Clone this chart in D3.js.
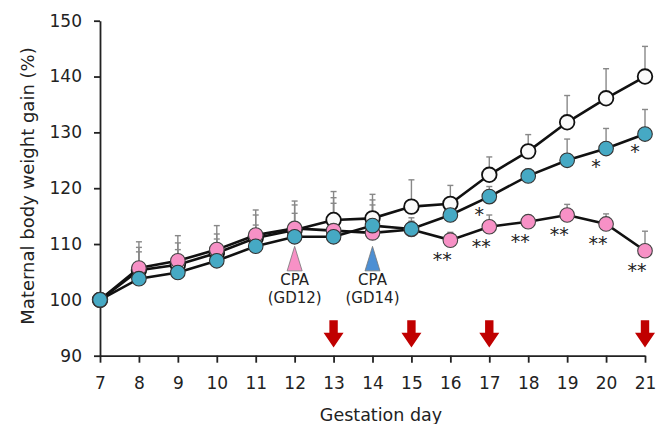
<html>
<head>
<meta charset="utf-8">
<style>
  body { margin: 0; background: #fff; }
  text { font-family: "DejaVu Sans", Verdana, sans-serif; fill: #222; }
</style>
</head>
<body>
<svg id="plot"></svg>
<script src="https://d3js.org/d3.v7.min.js"></script>
<script>

// gestation days
var days = [7, 8, 9, 10, 11, 12, 13, 14, 15, 16, 17, 18, 19, 20, 21];

// control (open circles)
var control   = [100, 105.3, 106.3, 108.4, 111.1, 112.5, 114.3, 114.6, 116.7, 117.2, 122.4, 126.6, 131.8, 136.1, 140.0];
var controlSD = [0, 5.1, 5.2, 4.9, 5.0, 5.2, 5.1, 4.3, 4.8, 3.3, 3.2, 3.0, 4.8, 5.3, 5.4];

// CPA on GD12 (pink)
var gd12   = [100, 105.7, 107.0, 109.0, 111.6, 112.8, 112.4, 112.0, 112.6, 110.7, 113.1, 114.0, 115.2, 113.6, 108.8];
var gd12SD = [0, 3.7, 3.2, 2.8, 3.6, 4.2, 5.9, 5.9, 1.5, 1.4, 2.1, 1.0, 1.9, 1.8, 3.5];

// CPA on GD14 (blue)
var gd14   = [100, 103.8, 104.9, 107.0, 109.6, 111.3, 111.3, 113.3, 112.7, 115.2, 118.5, 122.2, 125.0, 127.1, 129.7];
var gd14SD = [0, 4.8, 4.1, 3.9, 3.8, 4.2, 6.0, 3.7, 2.0, 2.0, 1.8, 1.2, 3.8, 3.6, 4.4];

// significance marks
var sigGd12 = [16, 17, 18, 19, 20, 21];   // "**"
var sigGd14 = [17, 20, 21];               // "*"

// red arrows on the x axis
var arrowDays = [13, 15, 17, 21];

var yTicks = [90, 100, 110, 120, 130, 140, 150];

var width = 663, height = 424;
var margins = {left: 100, right: 18, top: 20.7, bottom: 68.3};

var svg = d3.select("#plot")
    .attr("width", width)
    .attr("height", height);

var xScale = d3.scaleLinear()
    .domain([7, 21])
    .range([margins.left, width - margins.right]);

var yScale = d3.scaleLinear()
    .domain([90, 150])
    .range([height - margins.bottom, margins.top]);

// axes
var xAxis = d3.axisBottom(xScale)
    .tickValues(days)
    .tickFormat(d3.format("d"))
    .tickSize(7)
    .tickSizeOuter(0)
    .tickPadding(14);

var yAxis = d3.axisLeft(yScale)
    .tickValues(yTicks)
    .tickSize(6)
    .tickSizeOuter(0)
    .tickPadding(12);

var gx = svg.append("g")
    .attr("transform", "translate(0," + yScale(90) + ")")
    .call(xAxis);

var gy = svg.append("g")
    .attr("transform", "translate(" + xScale(7) + ",0)")
    .call(yAxis);

[gx, gy].forEach(function(g) {
    g.selectAll("path, line").attr("stroke", "#222").attr("stroke-width", 1.8);
    g.selectAll("text").attr("font-size", 17).attr("fill", "#222")
        .attr("font-family", "DejaVu Sans, Verdana, sans-serif");
});

// axis titles
svg.append("text")
    .attr("x", 381)
    .attr("y", 421)
    .attr("text-anchor", "middle")
    .attr("font-size", 17.5)
    .text("Gestation day");

svg.append("text")
    .attr("transform", "translate(34," + 186 + ") rotate(-90)")
    .attr("text-anchor", "middle")
    .attr("font-size", 18)
    .text("Maternal body weight gain (%)");

// series
var series = [
    {name: "control", values: control, sd: controlSD, fill: "#fafafa", stroke: "#111", sw: 1.8},
    {name: "gd12", values: gd12, sd: gd12SD, fill: "#f791c6", stroke: "#444", sw: 1.1},
    {name: "gd14", values: gd14, sd: gd14SD, fill: "#46a9c4", stroke: "#333", sw: 1.1}
];

var line = d3.line()
    .x(function(d) { return xScale(d.day); })
    .y(function(d) { return yScale(d.v); });

var toPoints = function(s) {
    return days.map(function(day, i) { return {day: day, v: s.values[i], sd: s.sd[i]}; });
};

// error bars (upper only)
series.forEach(function(s) {
    var pts = toPoints(s).filter(function(d) { return d.sd > 0; });
    var g = svg.append("g").attr("stroke", "#888").attr("stroke-width", 1.4);
    g.selectAll("line.bar").data(pts).enter().append("line")
        .attr("x1", function(d) { return xScale(d.day); })
        .attr("x2", function(d) { return xScale(d.day); })
        .attr("y1", function(d) { return yScale(d.v); })
        .attr("y2", function(d) { return yScale(d.v + d.sd); });
    g.selectAll("line.cap").data(pts).enter().append("line")
        .attr("x1", function(d) { return xScale(d.day) - 3; })
        .attr("x2", function(d) { return xScale(d.day) + 3; })
        .attr("y1", function(d) { return yScale(d.v + d.sd); })
        .attr("y2", function(d) { return yScale(d.v + d.sd); });
});

// lines
series.forEach(function(s) {
    svg.append("path")
        .datum(toPoints(s))
        .attr("d", line)
        .attr("fill", "none")
        .attr("stroke", "#111")
        .attr("stroke-width", 2.6);
});

// points
series.forEach(function(s) {
    svg.append("g").selectAll("circle")
        .data(toPoints(s))
        .enter().append("circle")
        .attr("cx", function(d) { return xScale(d.day); })
        .attr("cy", function(d) { return yScale(d.v); })
        .attr("r", 7.3)
        .attr("fill", s.fill)
        .attr("stroke", s.stroke)
        .attr("stroke-width", s.sw);
});

// significance asterisks
svg.append("g").selectAll("text")
    .data(sigGd12)
    .enter().append("text")
    .attr("x", function(d) { return xScale(d) - 8; })
    .attr("y", function(d) { return yScale(gd12[days.indexOf(d)]) + 26; })
    .attr("text-anchor", "middle")
    .attr("font-size", 19)
    .text("**");

svg.append("g").selectAll("text")
    .data(sigGd14)
    .enter().append("text")
    .attr("x", function(d) { return xScale(d) - 10; })
    .attr("y", function(d) { return yScale(gd14[days.indexOf(d)]) + 24; })
    .attr("text-anchor", "middle")
    .attr("font-size", 19)
    .text("*");

// CPA markers
var markers = [
    {day: 12, label: "(GD12)", fill: "#f791c6"},
    {day: 14, label: "(GD14)", fill: "#4d8fd3"}
];
markers.forEach(function(m) {
    var cx = xScale(m.day);
    var top = yScale(112) + 13.5, bottom = top + 24.5;
    svg.append("path")
        .attr("d", "M" + cx + "," + top + "L" + (cx + 7.5) + "," + bottom + "L" + (cx - 7.5) + "," + bottom + "Z")
        .attr("fill", m.fill)
        .attr("stroke", "#777")
        .attr("stroke-width", 0.8);
    svg.append("text")
        .attr("x", cx).attr("y", bottom + 14.5)
        .attr("text-anchor", "middle")
        .attr("font-size", 15)
        .text("CPA");
    svg.append("text")
        .attr("x", cx).attr("y", bottom + 32.5)
        .attr("text-anchor", "middle")
        .attr("font-size", 15)
        .text(m.label);
});

// red arrows
svg.append("g").selectAll("path")
    .data(arrowDays)
    .enter().append("path")
    .attr("d", function(d) {
        var x = xScale(d), y0 = yScale(90) - 35.5, yh = y0 + 12.5, yt = y0 + 27.3;
        return "M" + (x - 4.2) + "," + y0 + "L" + (x + 4.2) + "," + y0 +
            "L" + (x + 4.2) + "," + yh + "L" + (x + 10) + "," + yh +
            "L" + x + "," + yt + "L" + (x - 10) + "," + yh +
            "L" + (x - 4.2) + "," + yh + "Z";
    })
    .attr("fill", "#c00000");

</script>
</body>
</html>
